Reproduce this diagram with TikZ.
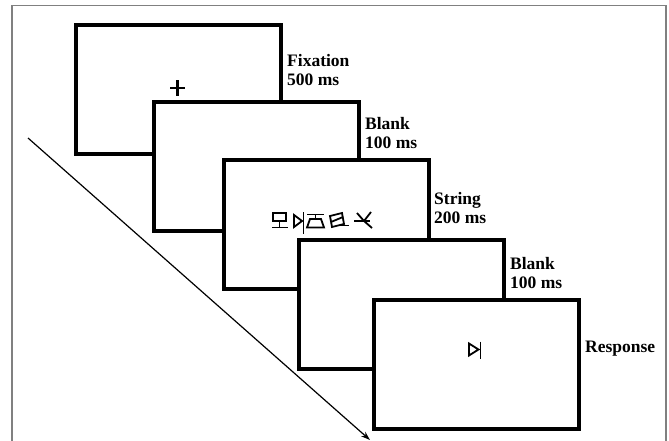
\documentclass[tikz,border=0pt]{standalone}
\usepackage{fontspec}
\setmainfont{Liberation Serif}
\usetikzlibrary{arrows.meta}
\begin{document}
\begin{tikzpicture}[x=1pt,y=-1pt,
  screen/.style={draw=black,fill=white,line width=4pt,minimum width=205pt,minimum height=129pt,anchor=north west,inner sep=0pt},
  lbl/.style={font=\bfseries\fontsize{17.5}{19}\selectfont,anchor=north west,align=left,inner sep=0pt},
  glyph/.style={line width=1.8pt,line cap=butt,line join=miter}]
\useasboundingbox (0,0) rectangle (669,441);
\draw[gray,line width=1.2pt] (12,441) -- (12,5.5) -- (666,5.5) -- (666,441);
% diagonal arrow
\coordinate (ds) at (28,138);
\coordinate (de) at (370,440);
\draw[line width=1.2pt,-{Stealth[length=9pt,width=6pt]}] (ds) -- (de);
% screens
\node[screen] (s1) at (74,23) {};
\node[screen] (s2) at (152,100) {};
\node[screen] (s3) at (222,158) {};
\node[screen] (s4) at (297,238) {};
\node[screen] (s5) at (372,298) {};
% labels
\node[lbl] (l1) at (287,54) {Fixation\\500 ms};
\node[lbl] (l2) at (365,117) {Blank\\100 ms};
\node[lbl] (l3) at (434,192) {String\\200 ms};
\node[lbl] (l4) at (510,257) {Blank\\100 ms};
\node[lbl] (l5) at (585,341) {Response};
% fixation cross
\draw[line width=2.2pt] (170,88) -- (185,88) (177.5,80.5) -- (177.5,96);
% string glyphs
\begin{scope}[glyph]
  % 1
  \draw (273,213) rectangle (286,221);
  \draw (279.5,221) -- (279.5,227);
  \draw (272,227.5) -- (287.5,227.5);
  % 2
  \draw (294,215) -- (302,221) -- (294,227) -- cycle;
  \draw (303.5,212) -- (303.5,234);
  % 3
  \draw (307,214.5) -- (324,214.5);
  \draw (315.5,214.5) -- (315.5,219);
  \draw (310,219) -- (321,219) -- (324,227.5) -- (307,227.5) -- cycle;
  % 4
  \draw (330,216) -- (342,213) -- (344,224) -- (332,227) -- cycle;
  \draw (331,222) -- (343,217);
  \draw (337,225.5) -- (349,225.5);
  % 5
  \draw (354,221) -- (370,221);
  \draw (357,213) -- (364,221) -- (372,228);
  \draw (371,212) -- (364,221);
\end{scope}
% response glyph
\begin{scope}[glyph]
  \draw (469,343.5) -- (478.5,349.5) -- (469,355.5) -- cycle;
  \draw (480.5,341.5) -- (480.5,358.5);
\end{scope}
\end{tikzpicture}
\end{document}
